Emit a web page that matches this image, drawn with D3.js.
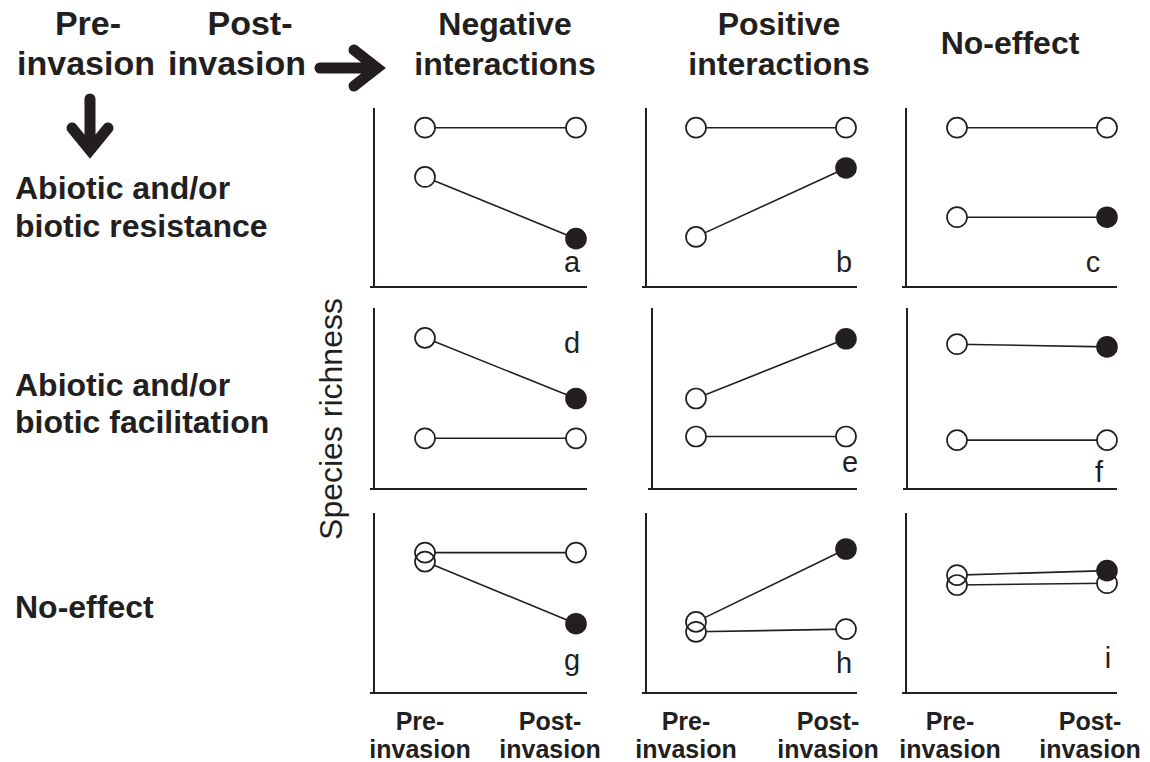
<!DOCTYPE html>
<html><head><meta charset="utf-8">
<script src="https://cdn.jsdelivr.net/npm/d3@7"></script>
<style>
body{margin:0;background:#fff;}
svg{display:block;background:#fff;}
text{font-family:"Liberation Sans",Arial,Helvetica,sans-serif;fill:#231f20;}
</style>
</head><body>
<svg id="chart" width="1150" height="762"></svg>
<script>
// ---------- data ----------
const stages = ["Pre-invasion", "Post-invasion"];
const stageLines = [["Pre-", "invasion"], ["Post-", "invasion"]];
const columnHeaders = [["Negative", "interactions"], ["Positive", "interactions"], ["No-effect"]];
const rowHeaders = [["Abiotic and/or", "biotic resistance"], ["Abiotic and/or", "biotic facilitation"], ["No-effect"]];
const panelLabels = ["a", "b", "c", "d", "e", "f", "g", "h", "i"];
const yLabel = "Species richness";
// resident (uninvaded) series: open circles, [pre, post], relative richness 0-10
const residentSeries = [[8.9, 8.9], [8.9, 8.9], [8.9, 8.9], [2.8, 2.8], [2.9, 2.9], [2.7, 2.7], [7.8, 7.8], [3.4, 3.55], [6.0, 6.1]];
// invaded series: open pre-invasion circle, filled post-invasion circle
const invadedSeries = [[6.15, 2.7], [2.8, 6.65], [3.9, 3.9], [8.35, 5.0], [5.0, 8.3], [8.0, 7.85], [7.3, 3.85], [3.95, 8.0], [6.55, 6.8]];

// ---------- layout ----------
const ink = "#231f20";
const colLayout = [
  {axis: 374, x0: 425, x1: 576, right: 587},
  {axis: 646, x0: 696, x1: 846, right: 857},
  {axis: 906, x0: 957, x1: 1107, right: 1117}
];
const rowLayout = [{top: 108, bottom: 287}, {top: 308, bottom: 489}, {top: 513, bottom: 693}];
const axisShift = [0, 0, 0, 0, 6, 1, 0, 0, 0];
const labelPos = [[572, 272], [844, 272], [1093, 272], [572, 353], [850, 472], [1099, 482], [572, 670], [844, 673], [1108, 668]];
const r = 10;

const svg = d3.select("#chart");

panelLabels.forEach((lab, i) => {
  const col = colLayout[i % 3], row = rowLayout[Math.floor(i / 3)];
  const x = d3.scalePoint().domain(stages).range([col.x0, col.x1]);
  const y = d3.scaleLinear().domain([0, 10]).range([row.bottom, row.top]);
  const g = svg.append("g");
  const ax = col.axis + axisShift[i];
  g.append("path")
    .attr("d", `M${ax},${row.top}V${row.bottom}H${col.right}M${ax - 4},${row.bottom}H${ax}`)
    .attr("fill", "none").attr("stroke", ink).attr("stroke-width", 2);

  const series = [
    {vals: residentSeries[i], invaded: false},
    {vals: invadedSeries[i], invaded: true}
  ];
  const line = d3.line().x(d => x(d.stage)).y(d => y(d.v));
  series.forEach(s => {
    g.append("path")
      .datum(stages.map((st, k) => ({stage: st, v: s.vals[k]})))
      .attr("d", line).attr("fill", "none").attr("stroke", ink).attr("stroke-width", 1.6);
  });
  const pts = [];
  series.forEach(s => stages.forEach((st, k) => pts.push({stage: st, v: s.vals[k], filled: s.invaded && k === 1})));
  g.selectAll("circle.bg").data(pts.filter(p => !p.filled)).join("circle")
    .attr("class", "bg").attr("cx", d => x(d.stage)).attr("cy", d => y(d.v)).attr("r", r)
    .attr("fill", "#fff").attr("stroke", "none");
  g.selectAll("circle.ol").data(pts.filter(p => !p.filled)).join("circle")
    .attr("class", "ol").attr("cx", d => x(d.stage)).attr("cy", d => y(d.v)).attr("r", r)
    .attr("fill", "none").attr("stroke", ink).attr("stroke-width", 1.7);
  g.selectAll("circle.fi").data(pts.filter(p => p.filled)).join("circle")
    .attr("class", "fi").attr("cx", d => x(d.stage)).attr("cy", d => y(d.v)).attr("r", r + 0.8)
    .attr("fill", ink).attr("stroke", "none");

  g.append("text").attr("x", labelPos[i][0]).attr("y", labelPos[i][1])
    .attr("text-anchor", "middle").attr("font-size", 29).text(lab);
});

// bottom stage labels
const bottomCenters = [[420, 550], [686, 828], [950, 1090]];
bottomCenters.forEach(cs => cs.forEach((cx, k) => {
  const t = svg.append("text").attr("text-anchor", "middle")
    .attr("font-size", 25).attr("font-weight", "bold");
  t.append("tspan").attr("x", cx).attr("y", 730).text(stageLines[k][0]);
  t.append("tspan").attr("x", cx).attr("y", 758).text(stageLines[k][1]);
}));

// top-left stage headers
const topStageCenters = [[88, 86], [250, 237]];
topStageCenters.forEach((cs, k) => {
  const t = svg.append("text").attr("text-anchor", "middle").attr("font-size", 34).attr("font-weight", "bold");
  t.append("tspan").attr("x", cs[0]).attr("y", 35).text(stageLines[k][0]);
  t.append("tspan").attr("x", cs[1]).attr("y", 75).text(stageLines[k][1]);
});

// column headers
const colHeaderCenters = [505, 779, 1010];
columnHeaders.forEach((lines, c) => {
  const t = svg.append("text").attr("text-anchor", "middle").attr("font-size", 32).attr("font-weight", "bold");
  if (lines.length === 1) {
    t.append("tspan").attr("x", colHeaderCenters[c]).attr("y", 54).text(lines[0]);
  } else {
    lines.forEach((l, j) => t.append("tspan").attr("x", colHeaderCenters[c]).attr("y", 35 + 40 * j).text(l));
  }
});

// row headers
const rowHeaderBase = [[199, 237], [396, 433], [618]];
rowHeaders.forEach((lines, rI) => {
  const t = svg.append("text").attr("font-size", 32).attr("font-weight", "bold");
  lines.forEach((l, j) => t.append("tspan").attr("x", 15).attr("y", rowHeaderBase[rI][j]).text(l));
});

// y label
svg.append("text").attr("transform", "translate(342,419) rotate(-90)")
  .attr("text-anchor", "middle").attr("font-size", 32).text(yLabel);

// arrows
svg.append("path").attr("d", "M320,68H370M354,50L377,68L354,86")
  .attr("fill", "none").attr("stroke", ink).attr("stroke-width", 11)
  .attr("stroke-linecap", "round").attr("stroke-linejoin", "miter");
svg.append("path").attr("d", "M90,99V140M72,128L90,150L108,128")
  .attr("fill", "none").attr("stroke", ink).attr("stroke-width", 11)
  .attr("stroke-linecap", "round").attr("stroke-linejoin", "miter");
</script>
</body></html>
